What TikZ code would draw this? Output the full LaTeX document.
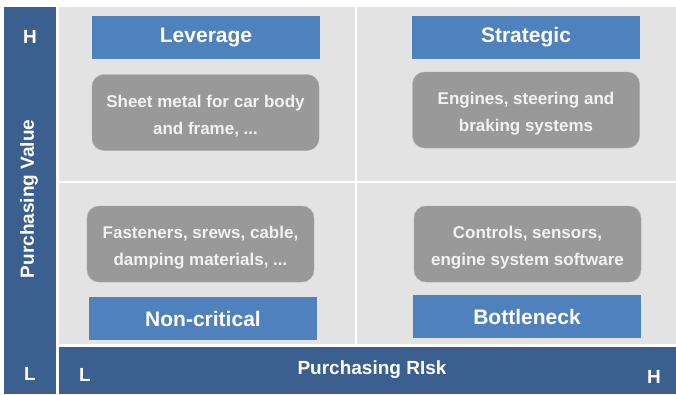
\documentclass[tikz,border=0pt]{standalone}
\usepackage{fontspec}
\setmainfont{Liberation Sans}
\usepackage{xcolor}
\usepackage{tikz}
\usetikzlibrary{positioning}

\definecolor{axisblue}{HTML}{3B5F8E}
\definecolor{titleblue}{HTML}{4F81BD}
\definecolor{quadgray}{HTML}{E3E3E3}
\definecolor{itemgray}{HTML}{999999}
\definecolor{itemtext}{HTML}{F2F2F2}

\newcommand{\itemstrut}{\rule{0pt}{20pt}}

\tikzset{
    titlebox/.style={fill=titleblue, text=white, minimum width=228pt, minimum height=43pt, inner sep=0pt, font=\fontsize{21}{25}\selectfont\bfseries},
    itembox/.style={fill=itemgray, draw=itemgray!80!white, rounded corners=12pt, text=itemtext, minimum width=227pt, minimum height=76pt, inner sep=0pt, align=center, font=\fontsize{17}{27}\selectfont\bfseries},
    axislabel/.style={text=white, font=\fontsize{19}{23}\selectfont\bfseries}
}

\begin{document}
\begin{tikzpicture}[x=1pt, y=-1pt]
    \useasboundingbox[fill=white] (0,0) rectangle (676,394);

    % Quadrants
    \fill[quadgray] (59,7) rectangle (676,344);
    \draw[white, line width=2pt] (356,7) -- (356,344);
    \draw[white, line width=2pt] (59,182) -- (676,182);

    % Axes
    \fill[axisblue] (4,7) rectangle (56,394);
    \fill[axisblue] (59,347) rectangle (676,394);

    \node[axislabel] (vhigh) at (30,37) {H};
    \node[axislabel] (vlow) at (30,374) {L};
    \node[axislabel, rotate=90] (value) at (29,199) {Purchasing Value};
    \node[axislabel] (rlow) at (85,375) {L};
    \node[axislabel] (rhigh) at (654,377) {H};
    \node[axislabel] (risk) at (372,370) {Purchasing RIsk};

    % Leverage
    \node[titlebox] (leverage) at (206,37.5) {Leverage};
    \node[itembox] (leverageitems) at (205.5,112.5) {\itemstrut Sheet metal for car body\\and frame, ...};

    % Strategic
    \node[titlebox] (strategic) at (526,37.5) {Strategic};
    \node[itembox] (strategicitems) at (526,110) {\itemstrut Engines, steering and\\braking systems};

    % Non-critical
    \node[itembox] (noncriticalitems) at (200.5,244) {\itemstrut Fasteners, srews, cable,\\damping materials, ...};
    \node[titlebox] (noncritical) at (203,318.5) {Non-critical};

    % Bottleneck
    \node[itembox] (bottleneckitems) at (527.5,244) {\itemstrut Controls, sensors,\\engine system software};
    \node[titlebox] (bottleneck) at (527,316.5) {Bottleneck};
\end{tikzpicture}
\end{document}
